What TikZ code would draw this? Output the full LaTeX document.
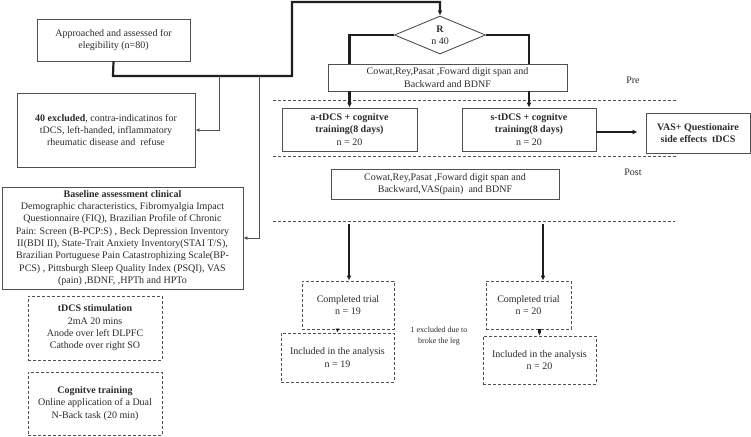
\documentclass[tikz,border=0pt]{standalone}
\usepackage{fontspec}
\setmainfont{Liberation Serif}
\usetikzlibrary{shapes.geometric,arrows.meta,calc}
\definecolor{txt}{HTML}{2B2B2B}
\definecolor{bord}{HTML}{505050}
\definecolor{lin}{HTML}{1E1E1E}
\begin{document}
\begin{tikzpicture}[x=1pt,y=-1pt,
  sz/.style 2 args={minimum width=#1pt,minimum height=#2pt},
  box/.style={draw=bord,line width=0.9pt,fill=white,align=center,inner sep=0pt,text=txt,
    font=\fontsize{10}{12.3}\selectfont},
  dbox/.style={box,dash pattern=on 3pt off 2pt},
  thickline/.style={line width=2.2pt,draw=lin},
  thickarr/.style={thickline,-{Latex[length=5pt,width=5pt]}},
  thinarr/.style={line width=0.9pt,draw=bord,-{Latex[length=4pt,width=4pt]}},
  sep/.style={draw=bord,line width=0.7pt,dash pattern=on 3pt off 2pt},
  lbl/.style={text=txt,font=\fontsize{10}{12}\selectfont,align=center,inner sep=0pt}
]
\useasboundingbox (0,0) rectangle (751,436);

% left column
\node[box,sz={153}{42}] (appr) at (113.5,40) {Approached and assessed for\\elegibility (n=80)};
\node[box,sz={178}{74}] (excl) at (106,130) {\textbf{40 excluded}, contra-indicatinos for\\tDCS, left-handed, inflammatory\\rheumatic disease and\ \ refuse};
\node[box,sz={241}{102}] (base) at (122.5,238) {\textbf{Baseline assessment clinical}\\
Demographic characteristics, Fibromyalgia Impact\\
Questionnaire (FIQ), Brazilian Profile of Chronic\\
Pain: Screen (B-PCP:S) , Beck Depression Inventory\\
II(BDI II), State-Trait Anxiety Inventory(STAI T/S),\\
Brazilian Portuguese Pain Catastrophizing Scale(BP-\\
PCS) , Pittsburgh Sleep Quality Index (PSQI), VAS\\
(pain) ,BDNF, ,HPTh and HPTo};
\node[dbox,sz={134}{64}] (stim) at (95,328) {\textbf{tDCS stimulation}\\2mA 20 mins\\Anode over left DLPFC\\Cathode over right SO};
\node[dbox,sz={134}{63}] (cog) at (95,403.5) {\textbf{Cognitve training}\\Online application of a Dual\\N-Back task (20 min)};

% right part
\node[draw=bord,line width=0.9pt,diamond,inner sep=0pt,aspect=2.4,sz={91}{38},align=center,text=txt,
  font=\fontsize{10}{12}\selectfont] (R) at (440,35) {\textbf{R}\\n 40};
\node[box,sz={239}{27}] (pre) at (447.5,77.5) {Cowat,Rey,Pasat ,Foward digit span and\\Backward and BDNF};
\node[box,sz={135}{43},font=\fontsize{10}{12.3}\selectfont\bfseries] (atdcs) at (349.5,129.5) {a-tDCS + cognitve\\training(8 days)\\\mdseries n = 20};
\node[box,sz={134}{43},font=\fontsize{10}{12.3}\selectfont\bfseries] (stdcs) at (529,129.5) {s-tDCS + cognitve\\training(8 days)\\\mdseries n = 20};
\node[box,sz={104}{40},font=\fontsize{10}{12.3}\selectfont\bfseries] (vas) at (698,133) {VAS+ Questionaire\\side effects\ \ tDCS};
\node[box,sz={228}{30}] (post) at (445,184) {Cowat,Rey,Pasat ,Foward digit span and\\Backward,VAS(pain)\ \ and BDNF};
\node[lbl] (pretxt) at (633,80) {Pre};
\node[lbl] (posttxt) at (633,172) {Post};

\node[dbox,sz={92}{48}] (comp1) at (348,305) {Completed trial\\n = 19};
\node[dbox,sz={113}{49}] (inc1) at (337.5,357.5) {Included in the analysis\\n = 19};
\node[dbox,sz={85}{48}] (comp2) at (528.5,305) {Completed trial\\n = 20};
\node[dbox,sz={113}{48}] (inc2) at (539.5,360) {Included in the analysis\\n = 20};
\node[lbl,font=\fontsize{8}{10.5}\selectfont] (exc) at (439,336) {1 excluded due to\\broke the leg};

% separators
\coordinate (s1a) at (273,100); \coordinate (s1b) at (677,100);
\coordinate (s2a) at (273,156); \coordinate (s2b) at (677,156);
\coordinate (s3a) at (273,221); \coordinate (s3b) at (675,221);
\draw[sep] (s1a) -- (s1b);
\draw[sep] (s2a) -- (s2b);
\draw[sep] (s3a) -- (s3b);

% connectors
\coordinate (ja) at (113,76);
\coordinate (jb) at (292,76);
\coordinate (jc) at (292,2);
\coordinate (jd) at (440,2);
\draw[thickarr] (appr.south) -- (ja) -- (jb) -- (jc) -- (jd) -- (R.north);
\coordinate (je) at (219,76);
\coordinate (jf) at (259,76);
\draw[thinarr] (je) |- (excl.east);
\draw[thinarr] (jf) |- (base.east);

\draw[thickline] (R.west) -| (atdcs.north |- pre.north);
\draw[thickarr] (atdcs.north |- pre.south) -- (atdcs.north);
\draw[thickline] (R.east) -| (stdcs.north |- pre.north);
\draw[thickarr] (stdcs.north |- pre.south) -- (stdcs.north);
\draw[thickarr,shorten >=8pt] (stdcs.east |- 0,132) -- (vas.west |- 0,132);

\coordinate (l1) at (349,224);
\coordinate (l2) at (543,224);
\draw[thickarr] (l1) -- (l1 |- comp1.north);
\draw[thickarr] (l2) -- (l2 |- comp2.north);
\draw[thickarr,-{Latex[length=4pt,width=4pt]}] (inc1.north |- comp1.south) -- (inc1.north);
\draw[thickarr,-{Latex[length=4pt,width=4pt]}] (inc2.north |- comp2.south) -- (inc2.north);
\end{tikzpicture}
\end{document}
